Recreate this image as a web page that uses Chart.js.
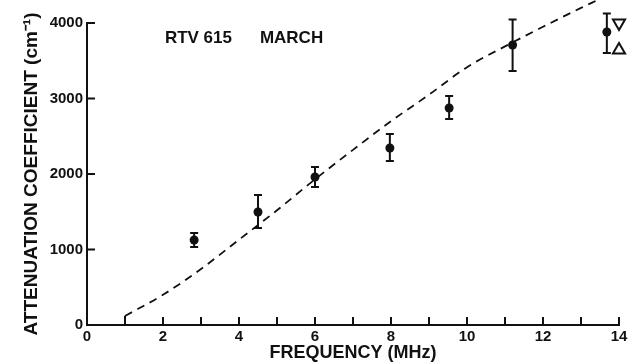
<!DOCTYPE html>
<html>
<head>
<meta charset="utf-8">
<script src="https://cdn.jsdelivr.net/npm/chart.js@4.4.1/dist/chart.umd.min.js"></script>
<style>
  html, body { margin: 0; padding: 0; background: #fff; }
  canvas { display: block; }
</style>
</head>
<body>
<canvas id="atten" width="634" height="364"></canvas>
<script>
// ── Measured attenuation, RTV 615 (March) ─────────────────
const FREQ_MHZ = [2.82, 4.5, 6.0, 7.97, 9.53, 11.2, 13.68];
const ATTEN    = [1126, 1497, 1960, 2344, 2874, 3709, 3881];
const ATTEN_LO = [1033, 1285, 1828, 2172, 2728, 3364, 3603];
const ATTEN_HI = [1219, 1722, 2093, 2530, 3033, 4045, 4125];

// ── Predicted curve (dashed) ──────────────────────────────
const FIT_FREQ  = [1, 2, 3, 4, 5, 6, 7, 8, 9, 10, 11, 12, 13, 13.42];
const FIT_ATTEN = [120, 400, 742, 1130, 1520, 1930, 2320, 2700, 3050, 3415, 3690, 3950, 4200, 4300];

// ── Open triangle markers at 14 MHz ───────────────────────
const MARK_FREQ = [14];
const MARK_DOWN = [4000];
const MARK_UP   = [3642];

// ── Axes ──────────────────────────────────────────────────
const X_LABELS = [0, 2, 4, 6, 8, 10, 12, 14];
const X_MINOR  = [0, 1, 2, 3, 4, 5, 6, 7, 8, 9, 10, 11, 12, 13, 14];
const Y_LABELS = [0, 1000, 2000, 3000, 4000];

const INK = '#111';
const FONT = "'Liberation Sans', Arial, sans-serif";

const pts = (xs, ys) => xs.map((x, i) => ({ x, y: ys[i] }));

// inward tick marks, error bars and the sample label
const decorations = {
  id: 'decorations',
  afterDatasetsDraw(chart) {
    const { ctx, chartArea: area, scales: { x, y } } = chart;
    ctx.save();
    ctx.strokeStyle = INK;
    ctx.lineWidth = 2;
    ctx.lineCap = 'butt';

    ctx.beginPath();
    X_MINOR.forEach(v => {
      const px = x.getPixelForValue(v);
      ctx.moveTo(px, area.bottom);
      ctx.lineTo(px, area.bottom - 8);
    });
    Y_LABELS.forEach(v => {
      const py = y.getPixelForValue(v);
      ctx.moveTo(area.left, py);
      ctx.lineTo(area.left + 8, py);
    });
    ctx.stroke();

    // error bars
    ctx.beginPath();
    FREQ_MHZ.forEach((f, i) => {
      const px = x.getPixelForValue(f);
      const lo = y.getPixelForValue(ATTEN_LO[i]);
      const hi = y.getPixelForValue(ATTEN_HI[i]);
      ctx.moveTo(px, lo); ctx.lineTo(px, hi);
      ctx.moveTo(px - 4, lo); ctx.lineTo(px + 4, lo);
      ctx.moveTo(px - 4, hi); ctx.lineTo(px + 4, hi);
    });
    ctx.stroke();

    ctx.fillStyle = INK;
    ctx.font = `bold 17px ${FONT}`;
    ctx.textBaseline = 'middle';
    const ty = y.getPixelForValue(3800);
    ctx.fillText('RTV 615', x.getPixelForValue(2.05), ty);
    ctx.fillText('MARCH', x.getPixelForValue(4.55), ty);
    ctx.restore();
  }
};

new Chart(document.getElementById('atten'), {
  type: 'scatter',
  data: {
    datasets: [
      {
        label: 'curve',
        data: pts(FIT_FREQ, FIT_ATTEN),
        showLine: true,
        borderColor: INK,
        borderWidth: 1.8,
        borderDash: [8, 6],
        pointRadius: 0,
        cubicInterpolationMode: 'monotone',
        clip: false,
      },
      {
        label: 'stub',
        data: [{ x: FIT_FREQ[0], y: 0 }, { x: FIT_FREQ[0], y: FIT_ATTEN[0] }],
        showLine: true,
        borderColor: INK,
        borderWidth: 2,
        pointRadius: 0,
      },
      {
        label: 'measured',
        data: pts(FREQ_MHZ, ATTEN),
        pointRadius: 4.5,
        pointBackgroundColor: INK,
        pointBorderColor: INK,
        pointBorderWidth: 0,
      },
      {
        label: 'down',
        data: pts(MARK_FREQ, MARK_DOWN),
        pointStyle: 'triangle',
        rotation: 180,
        pointRadius: 7,
        pointBackgroundColor: '#fff',
        pointBorderColor: INK,
        pointBorderWidth: 2,
        clip: false,
      },
      {
        label: 'up',
        data: pts(MARK_FREQ, MARK_UP),
        pointStyle: 'triangle',
        pointRadius: 7,
        pointBackgroundColor: '#fff',
        pointBorderColor: INK,
        pointBorderWidth: 2,
        clip: false,
      },
      {
        label: 'dots',
        data: pts(MARK_FREQ.concat(MARK_FREQ), MARK_DOWN.concat(MARK_UP)),
        pointRadius: 1.6,
        pointBackgroundColor: INK,
        pointBorderWidth: 0,
        clip: false,
      },
    ],
  },
  options: {
    responsive: false,
    animation: false,
    devicePixelRatio: 1,
    layout: { padding: { left: 0, right: 15, top: 23, bottom: 0 } },
    plugins: { legend: { display: false }, tooltip: { enabled: false } },
    scales: {
      x: {
        type: 'linear',
        min: 0,
        max: 14,
        afterBuildTicks: s => { s.ticks = X_LABELS.map(v => ({ value: v })); },
        afterFit: s => { s.height = 39; },
        grid: { display: false, drawTicks: false },
        border: { color: INK, width: 2 },
        ticks: { color: INK, padding: 3, font: { family: FONT, size: 15, weight: 'bold' } },
        title: {
          display: true,
          text: 'FREQUENCY (MHz)',
          color: INK,
          padding: { top: 0, bottom: 0 },
          font: { family: FONT, size: 18, weight: 'bold' },
        },
      },
      y: {
        min: 0,
        max: 4000,
        afterBuildTicks: s => { s.ticks = Y_LABELS.map(v => ({ value: v })); },
        afterFit: s => { s.width = 87; },
        grid: { display: false, drawTicks: false },
        border: { color: INK, width: 2 },
        ticks: {
          color: INK,
          padding: 4,
          font: { family: FONT, size: 15, weight: 'bold' },
          callback: v => String(v),
        },
        title: {
          display: true,
          text: 'ATTENUATION COEFFICIENT (cm\u207B\u00B9)',
          color: INK,
          padding: { top: 20, bottom: 0 },
          font: { family: FONT, size: 19, weight: 'bold' },
        },
      },
    },
  },
  plugins: [decorations],
});
</script>
</body>
</html>
